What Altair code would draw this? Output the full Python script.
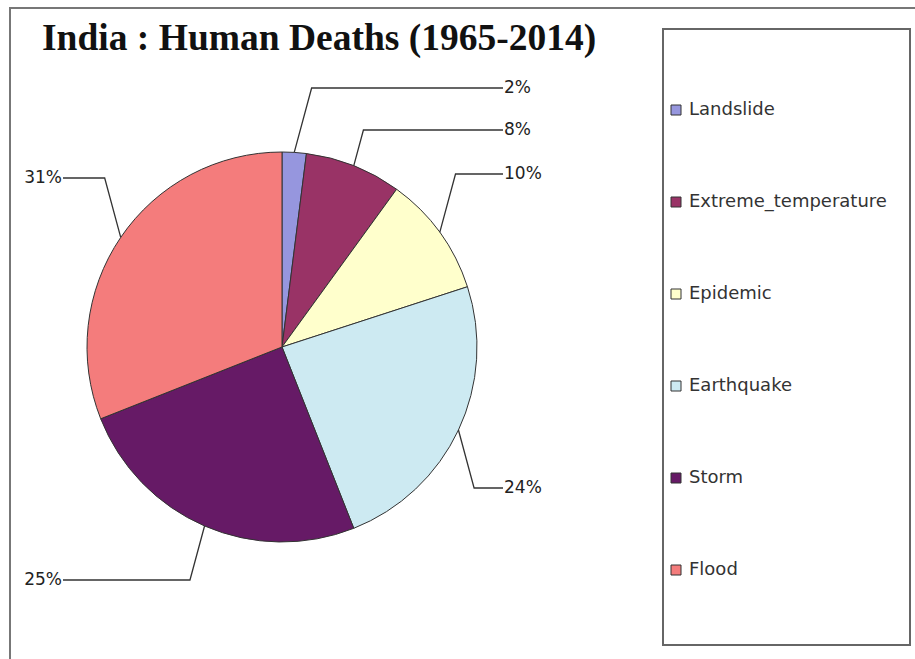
import math
import altair as alt
import pandas as pd

# ---- data ----
categories = ["Landslide", "Extreme_temperature", "Epidemic", "Earthquake", "Storm", "Flood"]
percent = [2, 8, 10, 24, 25, 31]
colors = ["#9696DE", "#993366", "#FFFFCC", "#CDEAF2", "#661A66", "#F47C7C"]
title_text = "India : Human Deaths (1965-2014)"

# ---- layout (pixels) ----
W, H = 915, 659
CX, CY, R = 282, 347, 195
label_y = [88, 130, 174, 488, 580, 178]
RIGHT_END, LEFT_END = 503, 63

pie_df = pd.DataFrame({"cat": categories, "pct": percent, "idx": list(range(len(categories)))})

total = float(sum(percent))
cum = 0.0
line_rows, label_rows = [], []
for c, p, ly in zip(categories, percent, label_y):
    mid = (cum + p / 2.0) / total * 2 * math.pi
    cum += p
    sx = CX + R * math.sin(mid)
    sy = CY - R * math.cos(mid)
    right = math.sin(mid) >= 0
    dy = abs(ly - sy)
    ex = sx + (0.27 * dy if right else -0.27 * dy)
    endx = RIGHT_END if right else LEFT_END
    line_rows += [
        {"cat": c, "o": 0, "x": sx, "y": sy},
        {"cat": c, "o": 1, "x": ex, "y": ly},
        {"cat": c, "o": 2, "x": endx, "y": ly},
    ]
    label_rows.append({"cat": c, "text": f"{p}%", "x": endx + (1 if right else -1), "y": ly,
                       "side": "right" if right else "left"})

lines_df = pd.DataFrame(line_rows)
labels_df = pd.DataFrame(label_rows)

xs = alt.Scale(domain=[0, W], range=[0, W], nice=False, zero=False)
ys = alt.Scale(domain=[0, H], range=[0, H], nice=False, zero=False)

one = pd.DataFrame({"a": [0]})
title_df = pd.DataFrame({"t": [title_text]})

frame = alt.Chart(one).mark_rect(fill="white", stroke="#777777", strokeWidth=2).encode(
    x=alt.value(10), y=alt.value(8), x2=alt.value(W + 20), y2=alt.value(H + 20)
)
legend_box = alt.Chart(one).mark_rect(fill="white", stroke="#666666", strokeWidth=2).encode(
    x=alt.value(663), y=alt.value(29), x2=alt.value(910), y2=alt.value(645)
)

title = alt.Chart(title_df).mark_text(
    align="left", baseline="alphabetic", font="Liberation Serif", fontSize=37.5,
    fontWeight="bold", color="#111111",
).encode(x=alt.value(42), y=alt.value(50), text="t:N")

pie = alt.Chart(pie_df).mark_arc(outerRadius=R, stroke="#333333", strokeWidth=1).encode(
    theta=alt.Theta("pct:Q", stack=True),
    order=alt.Order("idx:Q"),
    color=alt.Color(
        "cat:N",
        sort=categories,
        scale=alt.Scale(domain=categories, range=colors),
        legend=alt.Legend(
            title=None, orient="none", legendX=667, legendY=101, direction="vertical",
            symbolType="square", symbolSize=100, symbolStrokeColor="#333333", symbolStrokeWidth=1,
            labelFont="DejaVu Sans", labelFontSize=18, labelColor="#333333", labelOffset=4,
            labelLimit=0, rowPadding=74, padding=0,
        ),
    ),
    x=alt.value(CX),
    y=alt.value(CY),
)

leaders = alt.Chart(lines_df).mark_line(color="#333333", strokeWidth=1.3).encode(
    x=alt.X("x:Q", scale=xs, axis=None),
    y=alt.Y("y:Q", scale=ys, axis=None),
    detail="cat:N",
    order="o:Q",
)

text_style = dict(font="DejaVu Sans", fontSize=17, color="#222222", baseline="middle")
labels_right = alt.Chart(labels_df).transform_filter(alt.datum.side == "right").mark_text(
    align="left", **text_style
).encode(x=alt.X("x:Q", scale=xs, axis=None), y=alt.Y("y:Q", scale=ys, axis=None), text="text:N")
labels_left = alt.Chart(labels_df).transform_filter(alt.datum.side == "left").mark_text(
    align="right", **text_style
).encode(x=alt.X("x:Q", scale=xs, axis=None), y=alt.Y("y:Q", scale=ys, axis=None), text="text:N")

chart = alt.layer(frame, legend_box, title, pie, leaders, labels_right, labels_left).properties(
    width=W,
    height=H,
    padding=0,
    autosize=alt.AutoSizeParams(type="none"),
).configure_view(stroke=None)

chart.save("out.html", embed_options={"renderer": "svg", "actions": False})
